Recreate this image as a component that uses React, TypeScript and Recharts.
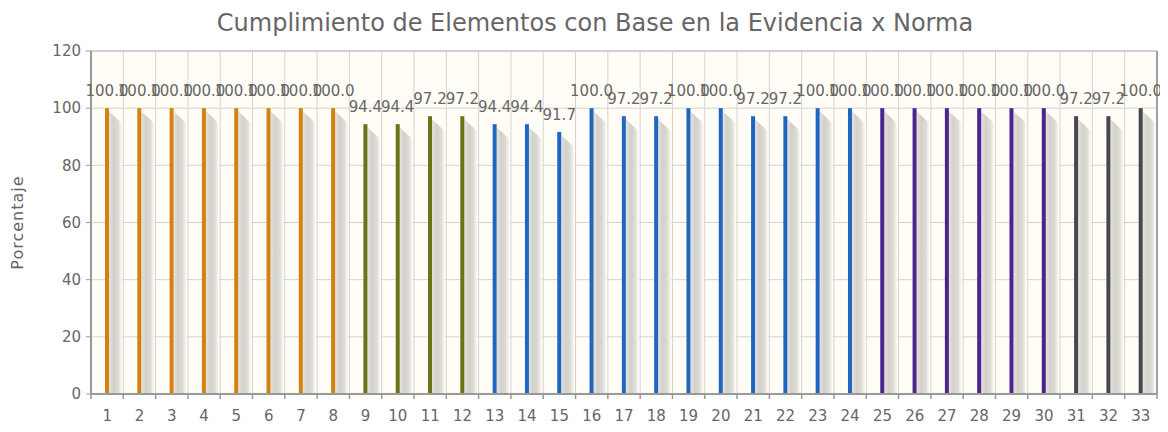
import React from "react"
import {
  ComposedChart,
  Bar,
  XAxis,
  YAxis,
  CartesianGrid,
  LabelList,
  Cell,
  usePlotArea,
} from "recharts"

const normas = Array.from({ length: 33 }, (_, i) => String(i + 1))
const porcentajes = [
  100, 100, 100, 100, 100, 100, 100, 100, 94.4, 94.4, 97.2, 97.2, 94.4, 94.4, 91.7, 100, 97.2,
  97.2, 100, 100, 97.2, 97.2, 100, 100, 100, 100, 100, 100, 100, 100, 97.2, 97.2, 100,
]
const grupos = [
  "a", "a", "a", "a", "a", "a", "a", "a", "b", "b", "b", "b", "c", "c", "c", "c", "c", "c", "c",
  "c", "c", "c", "c", "c", "d", "d", "d", "d", "d", "d", "e", "e", "e",
]
const colores: Record<string, string> = {
  a: "#d4820f",
  b: "#6b7316",
  c: "#1f66c2",
  d: "#4a248f",
  e: "#46464f",
}
const yTicks = [0, 20, 40, 60, 80, 100, 120]

const data = normas.map((n, i) => ({ norma: n, valor: porcentajes[i], grupo: grupos[i] }))

const FONT = "'DejaVu Sans', sans-serif"
const TEXT = "#666666"

// bar with a slanted grey drop shadow to the right
function ShadowBar(props: any) {
  const { x, y, width, height, fill } = props
  if (height <= 0) return null
  const sx = x + width
  return (
    <g>
      <polygon
        points={`${sx},${y + 3} ${sx + 13},${y + 15} ${sx + 13},${y + height} ${sx},${y + height}`}
        fill="url(#sombra)"
      />
      <rect x={x} y={y} width={width} height={height} fill={fill} />
    </g>
  )
}

function Frame() {
  const plot = usePlotArea()
  if (!plot) return null
  const step = plot.width / normas.length
  const bottom = plot.y + plot.height
  return (
    <g>
      <line x1={plot.x} x2={plot.x + plot.width} y1={plot.y} y2={plot.y} stroke="#b8b8b8" />
      <line
        x1={plot.x + plot.width}
        x2={plot.x + plot.width}
        y1={plot.y}
        y2={bottom}
        stroke="#a0a0a0"
        strokeWidth={2}
      />
      {normas.map((_, i) => (
        <line
          key={i}
          x1={plot.x + i * step}
          x2={plot.x + i * step}
          y1={bottom}
          y2={bottom + 5}
          stroke="#999"
          strokeWidth={1.5}
        />
      ))}
      <line x1={plot.x + plot.width} x2={plot.x + plot.width} y1={bottom} y2={bottom + 5} stroke="#999" strokeWidth={1.5} />
    </g>
  )
}

export default function App() {
  return (
    <div style={{ position: "relative", width: 1160, height: 424, fontFamily: FONT }}>
      <div
        style={{
          position: "absolute",
          top: 1,
          left: 0,
          width: 1174,
          textAlign: "center",
          fontSize: 24,
          color: TEXT,
          whiteSpace: "nowrap",
        }}
      >
        Cumplimiento de Elementos con Base en la Evidencia x Norma
      </div>
      <ComposedChart
        width={1160}
        height={424}
        data={data}
        margin={{ top: 43, right: 11, bottom: 0, left: 23 }}
        barCategoryGap={0}
      >
        <defs>
          <linearGradient id="sombra" x1="0" y1="0" x2="1" y2="0">
            <stop offset="0" stopColor="#e6e3dc" />
            <stop offset="0.35" stopColor="#d2d0ca" />
            <stop offset="0.7" stopColor="#dddbd5" />
            <stop offset="1" stopColor="#fffdf5" />
          </linearGradient>
        </defs>
        <CartesianGrid
          fill="#fffdf6"
          stroke="#d4d4d4"
          verticalCoordinatesGenerator={({ offset }: any) =>
            normas.map((_, i) => offset.left + (i * offset.width) / normas.length)
          }
        />
        <XAxis
          dataKey="norma"
          height={38}
          tickLine={false}
          axisLine={{ stroke: "#999", strokeWidth: 2 }}
          tick={{ fill: TEXT, fontSize: 15, fontFamily: FONT }}
          tickMargin={10}
          interval={0}
        />
        <YAxis
          width={60}
          domain={[0, 120]}
          ticks={yTicks}
          tickSize={5}
          tickMargin={5}
          tickLine={{ stroke: "#999" }}
          axisLine={{ stroke: "#999", strokeWidth: 2 }}
          tick={{ fill: TEXT, fontSize: 15, fontFamily: FONT }}
          label={{
            value: "Porcentaje",
            angle: -90,
            position: "insideLeft",
            offset: -14,
            style: {
              fill: TEXT,
              fontSize: 16,
              fontFamily: FONT,
              textAnchor: "middle",
              letterSpacing: 1,
            },
          }}
        />
        <Bar dataKey="valor" barSize={4} shape={<ShadowBar />} isAnimationActive={false}>
          {data.map((d, i) => (
            <Cell key={i} fill={colores[d.grupo]} />
          ))}
          <LabelList
            dataKey="valor"
            position="top"
            offset={12}
            formatter={(v: any) => Number(v).toFixed(1)}
            style={{ fill: TEXT, fontSize: 15, fontFamily: FONT }}
          />
        </Bar>
        <Frame />
      </ComposedChart>
    </div>
  )
}
